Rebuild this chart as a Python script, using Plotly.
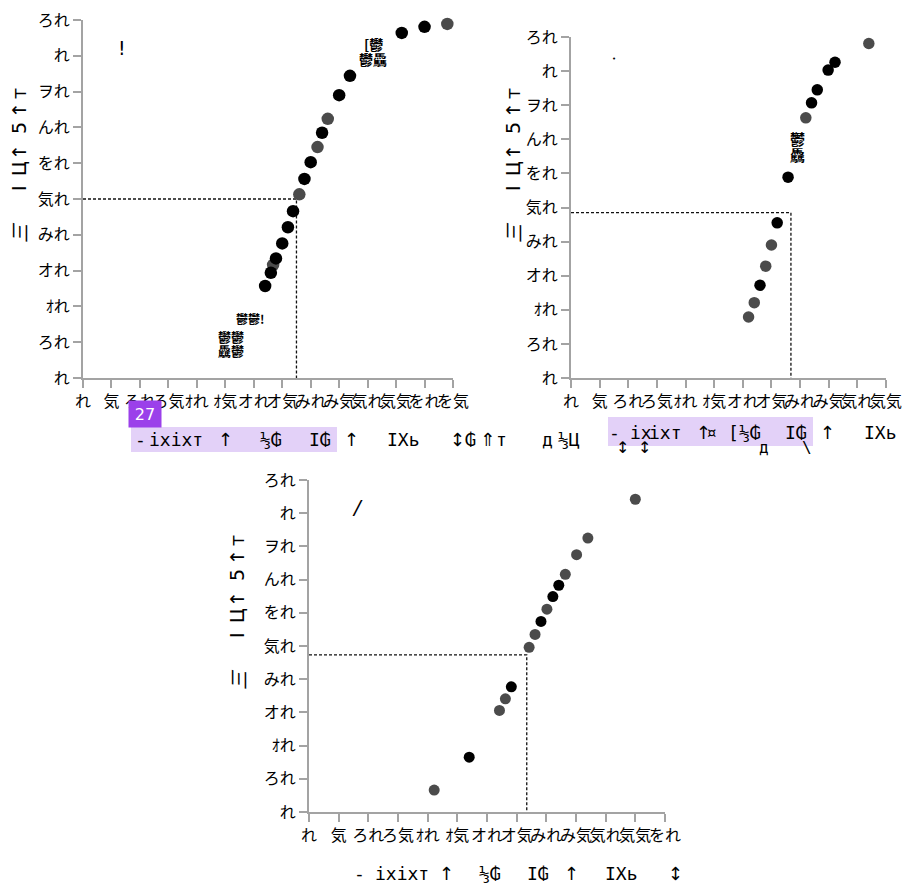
import plotly.graph_objects as go

W, H = 903, 886

# ---------------- data ----------------
y_tickvals = [0, 10, 20, 30, 40, 50, 60, 70, 80, 90, 100]
y_ticktext = ["れ", "ろれ", "ｵれ", "オれ", "みれ", "気れ", "をれ", "んれ", "ヲれ", "れ", "ろれ"]
x_tickvals = [0, 5, 10, 15, 20, 25, 30, 35, 40, 45, 50, 55, 60, 65]
x_ticktext = ["れ", "気", "ろれ", "ろ気", "ｵれ", "ｵ気", "オれ", "オ気", "みれ", "み気", "気れ", "気気", "をれ", "を気"]

a_x = [32, 33, 33.4, 33.9, 35, 36, 36.9, 38, 38.9, 40, 41.2, 42, 43, 45, 46.9, 56, 60, 64]
a_y = [25.7, 29.4, 31.6, 33.4, 37.6, 42.1, 46.6, 51.3, 55.6, 60.3, 64.5, 68.5, 72.4, 79.0, 84.4, 96.4, 98.1, 98.9]
a_shade = ["k", "k", "g", "k", "k", "k", "k", "g", "k", "k", "g", "k", "g", "k", "k", "k", "k", "g"]

b_x = [31, 32, 33, 34, 35, 36, 37.9, 41, 42, 43, 44.9, 46.1, 52]
b_y = [17.9, 22.1, 27.2, 32.8, 39.0, 45.5, 58.9, 76.3, 80.7, 84.5, 90.3, 92.6, 98.1]
b_shade = ["g", "g", "k", "g", "g", "k", "k", "g", "k", "k", "k", "k", "g"]

c_x = [21.1, 27.0, 32.1, 33.1, 34.1, 37.1, 38.1, 39.1, 40.1, 41.1, 42.1, 43.2, 45.1, 47.0, 55.0]
c_y = [6.6, 16.5, 30.6, 34.1, 37.7, 49.6, 53.5, 57.4, 61.1, 64.9, 68.3, 71.6, 77.5, 82.5, 94.2]
c_shade = ["g", "k", "g", "g", "k", "g", "g", "k", "g", "k", "k", "g", "g", "g", "g"]

# half-effect crossing points (x, y) per panel
half_x = [37.5, 38.4, 36.7]
half_y = [50.0, 48.5, 47.3]
x_max = [65, 55, 60]

# ---------------- figure ----------------
def px(x):
    return x / W

def py(y):
    return 1 - y / H

COL = {"k": "#000000", "g": "#4b4b4b"}
AX = "#a3a3a3"
CJK = "Noto Sans CJK JP"

fig = go.Figure()

panels = [
    dict(xs=a_x, ys=a_y, sh=a_shade, dom_x=(83, 453), dom_y=(20, 378), size=12.5),
    dict(xs=b_x, ys=b_y, sh=b_shade, dom_x=(571, 886), dom_y=(37, 378), size=11.5),
    dict(xs=c_x, ys=c_y, sh=c_shade, dom_x=(309, 665), dom_y=(480, 812), size=11),
]

for i, p in enumerate(panels):
    sfx = "" if i == 0 else str(i + 1)
    xa, ya = "x" + sfx, "y" + sfx
    fig.add_trace(go.Scatter(
        x=[0, half_x[i], half_x[i]], y=[half_y[i], half_y[i], 0],
        mode="lines", line=dict(color="#111", width=1.3, dash="3px,2px"),
        xaxis=xa, yaxis=ya, showlegend=False, hoverinfo="skip", cliponaxis=False))
    for shade in ["g", "k"]:
        xs = [x for x, s in zip(p["xs"], p["sh"]) if s == shade]
        ys = [y for y, s in zip(p["ys"], p["sh"]) if s == shade]
        fig.add_trace(go.Scatter(
            x=xs, y=ys, mode="markers",
            marker=dict(color=COL[shade], size=p["size"], line=dict(width=0)),
            xaxis=xa, yaxis=ya, showlegend=False, cliponaxis=False))
    n = x_max[i] // 5 + 1
    fig.update_layout(**{
        "xaxis" + sfx: dict(
            domain=[px(p["dom_x"][0]), px(p["dom_x"][1])], range=[0, x_max[i]],
            anchor=ya, tickvals=x_tickvals[:n], ticktext=x_ticktext[:n], tickangle=0,
            showline=True, linecolor=AX, linewidth=2, ticks="outside", ticklen=8,
            tickwidth=2, tickcolor=AX, showgrid=False, zeroline=False, automargin=False,
            tickfont=dict(family=CJK, size=16, color="#000")),
        "yaxis" + sfx: dict(
            domain=[py(p["dom_y"][1]), py(p["dom_y"][0])], range=[0, 100],
            anchor=xa, tickvals=y_tickvals, ticktext=y_ticktext,
            showline=True, linecolor=AX, linewidth=2, ticks="outside", ticklen=8,
            tickwidth=2, tickcolor=AX, showgrid=False, zeroline=False, automargin=False,
            tickfont=dict(family=CJK, size=16, color="#000")),
    })

ann = []

def txt(x, y, s, size=16, family="DejaVu Sans Mono", angle=0, xanchor="left", color="#000", **kw):
    ann.append(dict(x=px(x), y=py(y), xref="paper", yref="paper", text=s, showarrow=False,
                    xanchor=xanchor, yanchor="middle", textangle=angle,
                    font=dict(size=size, family=family, color=color), **kw))

# panel letters
txt(122, 48, "!", size=19, family="DejaVu Sans", xanchor="center")
txt(614, 59, "•", size=7, family="DejaVu Sans", xanchor="center")
txt(357, 507, "<i>/</i>", size=20, family="DejaVu Sans", xanchor="center")

# corrupted glyph blocks
txt(250, 318, "<b>鬱鬱!</b>", size=12, family=CJK, xanchor="center")
txt(231, 336, "<b>鬱鬱</b>", size=13, family=CJK, xanchor="center")
txt(231, 350, "<b>驫鬱</b>", size=13, family=CJK, xanchor="center")
txt(373, 44, "<b>[鬱</b>", size=14, family=CJK, xanchor="center")
txt(373, 59, "<b>鬱驫</b>", size=14, family=CJK, xanchor="center")
txt(797, 138, "<b>鬱</b>", size=15, family=CJK, xanchor="center")
txt(797, 155, "<b>驫</b>", size=15, family=CJK, xanchor="center")

# y-axis titles (rotated, one glyph at a time)
ytitle = [("т", 0), ("↑", 16), ("5", 34), ("↑", 58), ("Ц", 75), ("I", 94)]
for cx, top, tri in [(19, 94, 233), (513, 94, 233), (237, 541, 680)]:
    for ch, off in ytitle:
        txt(cx, top + off, ch, size=19, family="DejaVu Sans", angle=-90, xanchor="center")
    txt(cx, tri, "<i>三</i>", size=19, family=CJK, angle=-90, xanchor="center")

# x-axis titles (garbled)
F = "DejaVu Sans Mono"
A = "DejaVu Sans"
row_a = [(133, "-", F), (147, "ixixт", F), (216, "↑", A), (258, "⅓₲", F), (307, "I₲", F), (342, "↑", A),
         (385, "IXь", F), (448, "↕", A), (463, "₲", F), (478, "⇑", A), (494, "т", F), (540, "д", F), (556, "⅓Ц", F)]
for x, s, f in row_a:
    txt(x, 440, s, size=18, family=f)
row_b = [(607, "-", F), (628, "ix", F), (647, "ixт", F), (694, "↑", A), (704, "¤", F), (726, "[", F),
         (737, "⅓₲", F), (783, "I₲", F), (818, "↑", A), (862, "IXь", F)]
for x, s, f in row_b:
    txt(x, 433, s, size=18, family=f)
for x, s, f in [(614, "↕", A), (636, "↕", A), (757, "д", F), (800, "\\", F)]:
    txt(x, 447, s, size=16, family=f)
row_c = [(352, "-", F), (373, "ixixт", F), (437, "↑", A), (477, "⅓₲", F), (525, "I₲", F), (562, "↑", A),
         (603, "IXь", F), (666, "↕", A)]
for x, s, f in row_c:
    txt(x, 873, s, size=18, family=f)

# badge
ann.append(dict(x=px(144.5), y=py(414), xref="paper", yref="paper", text="27", showarrow=False,
                xanchor="center", yanchor="middle", bgcolor="#9b40ea", width=30, height=24,
                font=dict(size=16, family="DejaVu Sans", color="white")))

shapes = [
    dict(type="rect", xref="paper", yref="paper", x0=px(131), x1=px(337), y0=py(452), y1=py(427),
         fillcolor="rgba(155,89,230,0.28)", line=dict(width=0), layer="above"),
    dict(type="rect", xref="paper", yref="paper", x0=px(608), x1=px(813), y0=py(446), y1=py(417),
         fillcolor="rgba(155,89,230,0.28)", line=dict(width=0), layer="above"),
]

fig.update_layout(width=W, height=H, margin=dict(l=0, r=0, t=0, b=0, autoexpand=False),
                  paper_bgcolor="white", plot_bgcolor="white",
                  annotations=ann, shapes=shapes)

fig.write_html("out.html", config={"displayModeBar": False},
               post_script="document.body.style.margin='0';document.body.style.overflow='hidden';")
